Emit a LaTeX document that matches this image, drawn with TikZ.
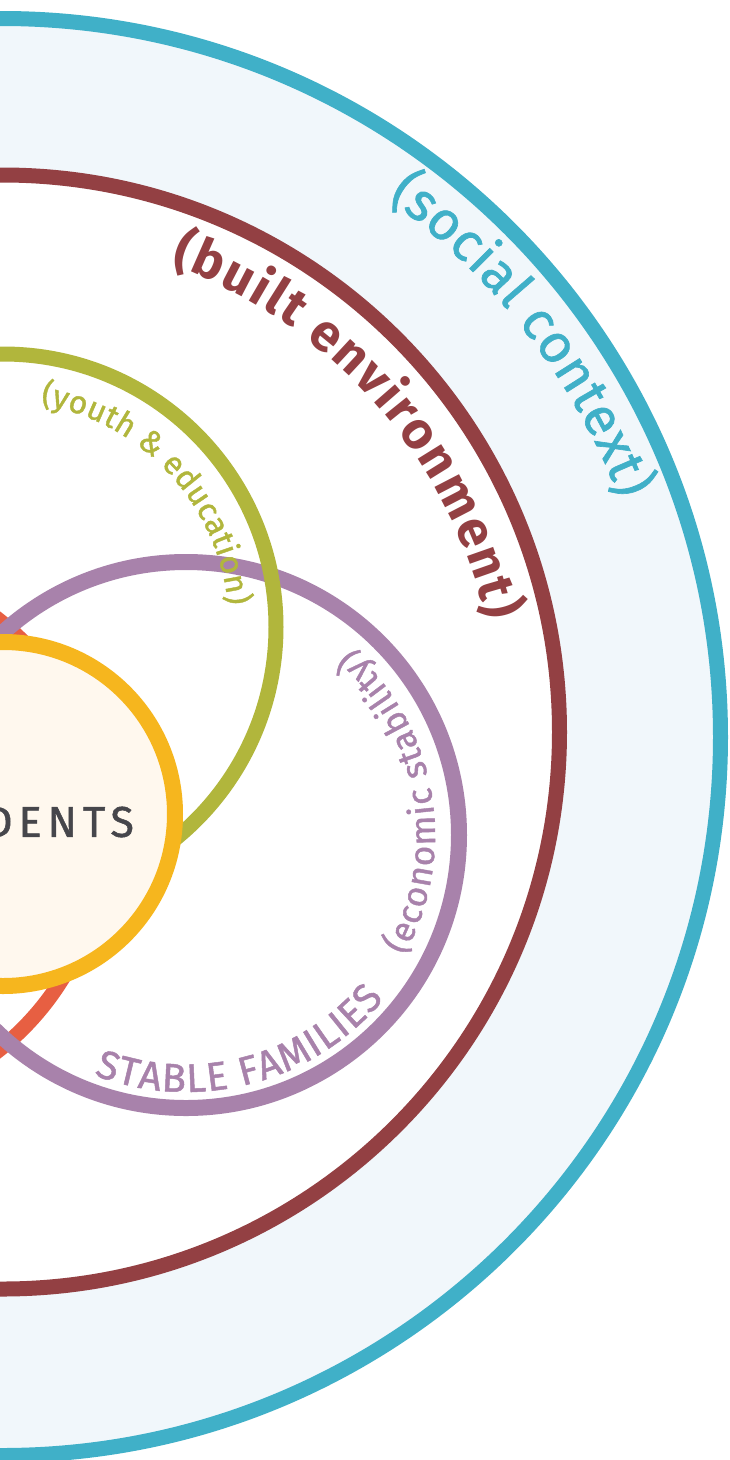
\documentclass[tikz,border=0pt]{standalone}
\usepackage{fontspec}
\setmainfont{Fira Sans}
\newfontfamily\labelfont{Fira Sans}[FakeBold=1.2]
\newfontfamily\spacedfont{Fira Sans}[LetterSpace=14, FakeBold=1.2]
\usepackage{tikz}
\definecolor{socialteal}{RGB}{64,176,200}
\definecolor{builtbrown}{RGB}{147,64,67}
\definecolor{youthgreen}{RGB}{177,182,60}
\definecolor{econpurple}{RGB}{168,130,171}
\definecolor{residentgold}{RGB}{246,182,30}
\definecolor{coralred}{RGB}{231,95,66}
\definecolor{ringfill}{RGB}{241,247,251}
\definecolor{creamfill}{RGB}{255,248,238}
\definecolor{inkgray}{RGB}{70,70,75}
\tikzset{
  ring/.style={
    line width=15pt
  },
  arclabel/.style={
    decorate,
    decoration={text along path, text align={fit to path}}
  }
}
\usetikzlibrary{calc}
\usetikzlibrary{decorations.text}

\begin{document}
\begin{tikzpicture}[x=1pt, y=1pt]
  \path[use as bounding box, fill=white] (0,-1460) rectangle (729,0);

  \coordinate (tc) at (2,-737);
  \coordinate (bc) at (2.5,-732);
  \coordinate (gc) at (3,-627);
  \coordinate (pc) at (186,-835);
  \coordinate (rc) at (-171,-835);
  \coordinate (yc) at (3,-814);

  \fill[ringfill] (tc) circle[radius=718.5];
  \draw[ring, socialteal] (tc) circle[radius=718.5];
  \fill[white] (bc) circle[radius=557];
  \draw[ring, builtbrown] (bc) circle[radius=557];

  \draw[ring, coralred] (rc) circle[radius=274];
  \draw[ring, econpurple, line width=16pt] (pc) circle[radius=273];
  \draw[ring, youthgreen] (gc) circle[radius=273];

  \path[arclabel, decoration={text color=socialteal,
      text={|\labelfont\fontsize{54}{60}\selectfont|(social context)}}]
    ($(tc)+(54.4:662)$) arc[start angle=54.4, end angle=21, radius=662];
  \path[arclabel, decoration={text color=builtbrown,
      text={|\fontsize{52}{60}\selectfont\bfseries|(built environment)}}]
    ($(bc)+(70.2:497)$) arc[start angle=70.2, end angle=12.9, radius=497];
  \path[arclabel, decoration={text color=youthgreen,
      text={|\labelfont\fontsize{32}{38}\selectfont|(youth {\&} education)}}]
    ($(gc)+(80.5:226)$) arc[start angle=80.5, end angle=5.5, radius=226];
  \path[arclabel, decoration={text color=econpurple,
      text={|\labelfont\fontsize{35}{40}\selectfont|(economic stability)}}]
    ($(pc)+(-29:249)$) arc[start angle=-29, end angle=48.5, radius=249];
  \path[arclabel, decoration={text color=econpurple,
      text={|\labelfont\fontsize{40}{48}\selectfont|STABLE FAMILIES}}]
    ($(pc)+(-111:257)$) arc[start angle=-111, end angle=-39.6, radius=257];

  \draw[ring, residentgold, line width=16pt, fill=creamfill] (yc) circle[radius=172];
  \node[text=inkgray, font=\spacedfont\fontsize{43}{50}\selectfont] (residents) at ($(yc)+(2,-8)$) {RESIDENTS};
\end{tikzpicture}
\end{document}
